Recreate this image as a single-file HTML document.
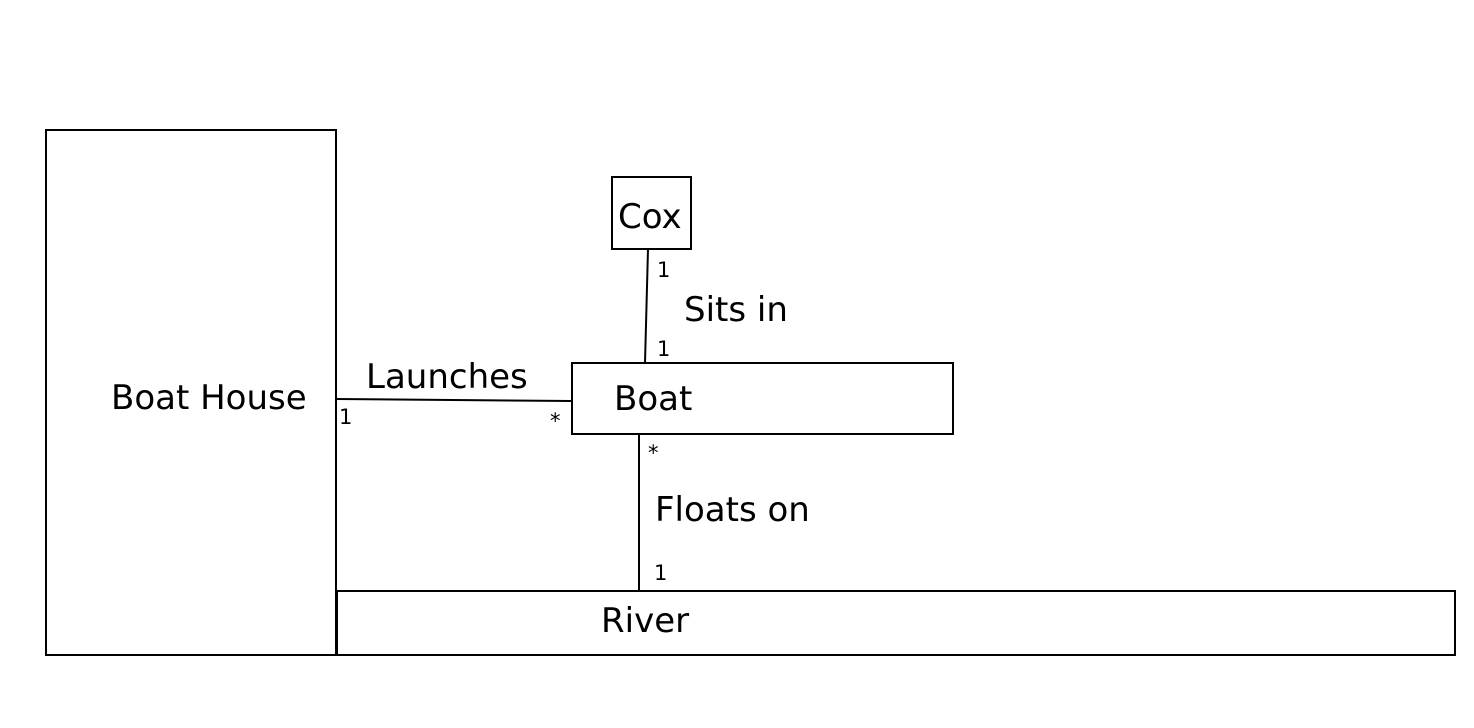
<!DOCTYPE html>
<html><head><style>body{margin:0;background:#fff}svg{display:block}</style></head>
<body>
<svg width="1474" height="728" xmlns="http://www.w3.org/2000/svg" font-family="'DejaVu Sans', 'Liberation Sans', sans-serif">
<rect width="1474" height="728" fill="#fff"/>
<g fill="none" stroke="#000" stroke-width="2">
<rect x="46" y="130" width="290" height="525"/>
<rect x="337" y="591" width="1118" height="64"/>
<rect x="572" y="363" width="381" height="71"/>
<rect x="612" y="177" width="79" height="72"/>
<line x1="648" y1="249" x2="645" y2="363"/>
<line x1="336" y1="399" x2="572" y2="401"/>
<line x1="639" y1="434" x2="639" y2="591"/>
</g>
<g fill="#000" font-size="34">
<text x="111" y="409">Boat House</text>
<text x="614" y="410">Boat</text>
<text x="618" y="228">Cox</text>
<text x="601" y="632">River</text>
<text x="366" y="388">Launches</text>
<text x="684" y="321">Sits in</text>
<text x="655" y="521">Floats on</text>
</g>
<g fill="#000" font-size="21">
<text x="339" y="424">1</text>
<text x="550" y="428">*</text>
<text x="657" y="277">1</text>
<text x="657" y="356">1</text>
<text x="648" y="460">*</text>
<text x="654" y="580">1</text>
</g>
</svg>
</body></html>
